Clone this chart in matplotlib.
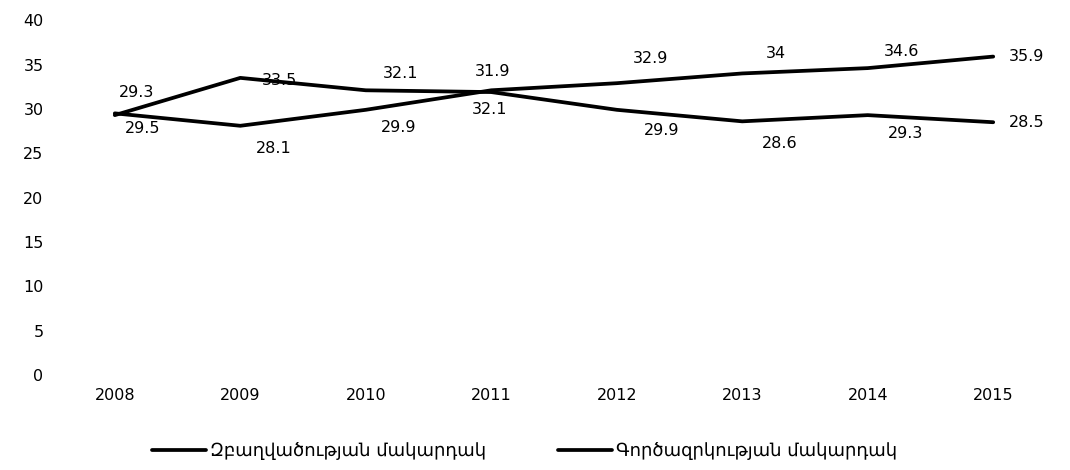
import matplotlib.pyplot as plt

# data
years = [2008, 2009, 2010, 2011, 2012, 2013, 2014, 2015]
zbaghvac = [29.3, 33.5, 32.1, 31.9, 29.9, 28.6, 29.3, 28.5]
gortsazrk = [29.5, 28.1, 29.9, 32.1, 32.9, 34, 34.6, 35.9]
labels = ["Զբաղվածության մակարդակ", "Գործազրկության մակարդակ"]
yticks = [0, 5, 10, 15, 20, 25, 30, 35, 40]

# label offsets in points (dx, dy)
offs_a = [(16, 16), (28, -2), (25, 12), (1, 15), (32, -15), (27, -16), (27, -13), (24, 0)]
offs_b = [(20, -11), (24, -16), (24, -13), (-1, -14), (24, 18), (24, 14), (24, 12), (24, 0)]

plt.rcParams['font.family'] = ['DejaVu Sans']

fig = plt.figure(figsize=(10.7, 4.7), dpi=100)
ax = fig.add_axes([0.051, 0.202, 0.93, 0.755])

l1, = ax.plot(years, zbaghvac, color='black', lw=2.7, solid_capstyle='round')
l2, = ax.plot(years, gortsazrk, color='black', lw=2.7, solid_capstyle='round')

for series, offs in [(zbaghvac, offs_a), (gortsazrk, offs_b)]:
    for x, y, (dx, dy) in zip(years, series, offs):
        ax.annotate(f"{y:g}", (x, y), xytext=(dx, dy), textcoords='offset points',
                    ha='center', va='center', fontsize=11.5)

ax.set_xlim(2007.52, 2015.45)
ax.set_ylim(0, 40)
ax.set_xticks(years)
ax.set_yticks(yticks)
ax.tick_params(axis='both', length=0, labelsize=11.5)
ax.tick_params(axis='y', pad=8)
ax.tick_params(axis='x', pad=9)
for s in ax.spines.values():
    s.set_visible(False)

fig.legend([l1, l2], labels, loc='center', bbox_to_anchor=(0.49, 0.04), ncol=2,
           frameon=False, fontsize=13, handlelength=3.0, handletextpad=0.2,
           columnspacing=4.0)

fig.savefig('out.png', dpi=100)
